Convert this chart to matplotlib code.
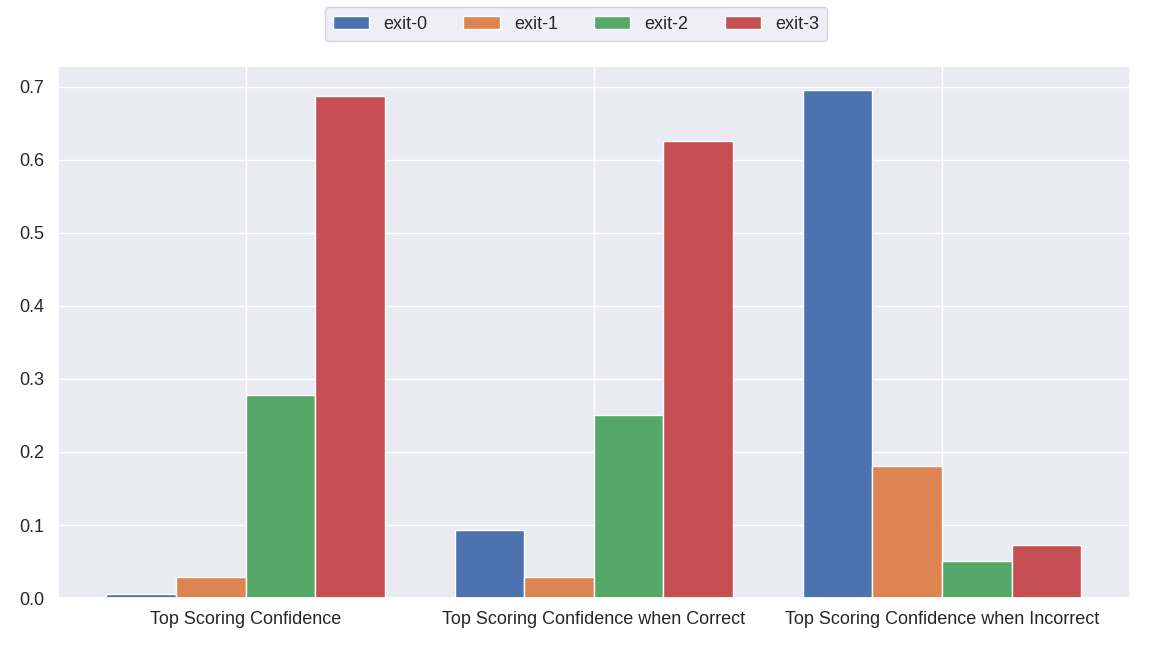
import matplotlib
matplotlib.use("Agg")
import matplotlib.pyplot as plt
import numpy as np
import seaborn as sns

categories = ["Top Scoring Confidence", "Top Scoring Confidence when Correct",
              "Top Scoring Confidence when Incorrect"]
series_names = ["exit-0", "exit-1", "exit-2", "exit-3"]
exit0 = [0.005, 0.093, 0.695]
exit1 = [0.029, 0.029, 0.181]
exit2 = [0.278, 0.251, 0.051]
exit3 = [0.687, 0.626, 0.073]
values = [exit0, exit1, exit2, exit3]

sns.set_theme(style="darkgrid")
plt.rcParams['font.family'] = ['Liberation Sans', 'DejaVu Sans']
colors = sns.color_palette("deep")[:4]

fig = plt.figure(figsize=(11.52, 6.48), dpi=100)
ax = fig.add_axes([0.050, 0.077, 0.931, 0.821])
x = np.arange(len(categories))
w = 0.2
for i, (name, vals) in enumerate(zip(series_names, values)):
    ax.bar(x + (i - 1.5) * w, vals, width=w, color=colors[i], label=name,
           edgecolor="white", linewidth=1)
ax.set_xticks(x)
ax.set_xticklabels(categories)
ax.set_ylim(0, 0.728)
ax.tick_params(labelsize=13)
fig.legend(loc="upper center", ncol=4, bbox_to_anchor=(0.5, 1.0025), fontsize=13,
           borderpad=0.45)
fig.savefig("out.png", dpi=100)
